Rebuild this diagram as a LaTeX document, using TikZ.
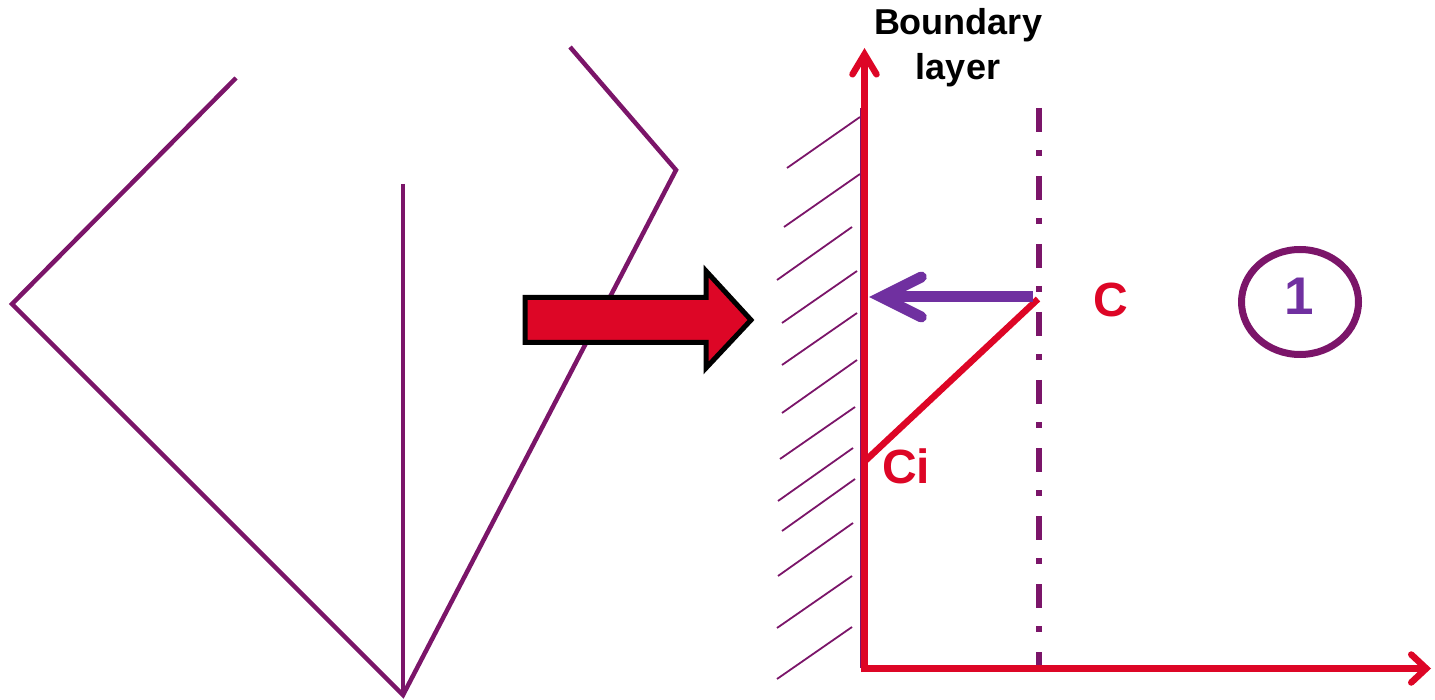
\documentclass[tikz,border=0pt]{standalone}
\usepackage{fontspec}
\setmainfont{Liberation Sans}
\usetikzlibrary{arrows.meta,shapes.geometric}
\definecolor{plum}{RGB}{123,21,105}
\definecolor{redc}{RGB}{221,6,38}
\definecolor{violetc}{RGB}{112,48,160}
\begin{document}
\begin{tikzpicture}[x=1pt,y=-1pt,
  sketch/.style={draw=plum,line width=4.5pt,line join=miter},
  hatch/.style={draw=plum,line width=1.8pt},
  wallline/.style={draw=plum,line width=2.5pt},
  redline/.style={draw=redc,line width=6.5pt},
  upaxis/.style={redline,-{Straight Barb[length=20pt,width=24pt,line cap=round]}},
  rightaxis/.style={redline,-{Straight Barb[length=15pt,width=28pt,line cap=round]}},
  fluxarrow/.style={draw=violetc,line width=11pt,-{Straight Barb[length=40pt,width=40pt,line cap=round]}},
  dashdot/.style={draw=plum,line width=6pt,dash pattern=on 24pt off 18pt on 6pt off 20pt},
  blockarrow/.style={draw=black,fill=redc,line width=5pt,line join=miter},
  bigred/.style={text=redc,font=\fontsize{48}{48}\selectfont\bfseries,inner sep=0pt,anchor=base},
  title/.style={text=black,font=\fontsize{36}{36}\selectfont\bfseries,inner sep=0pt,anchor=base},
  ring/.style={ellipse,draw=plum,line width=7pt,minimum width=117pt,minimum height=105pt,inner sep=0pt}
]
\useasboundingbox (0,0) rectangle (1435,700);

% left sketch
\coordinate (L1) at (236,78);
\coordinate (L2) at (12,304);
\coordinate (B) at (403,695);
\coordinate (V) at (403,184);
\coordinate (R1) at (570,47);
\coordinate (R2) at (676,170);
\draw[sketch] (L1) -- (L2) -- (B) -- (R2) -- (R1);
\draw[sketch] (V) -- (B);

% block arrow
\draw[blockarrow] (525,297.5) -- (706,297.5) -- (706,271) -- (751,320) -- (706,368) -- (706,342.5) -- (525,342.5) -- cycle;

% wall hatching
\draw[hatch] (787,168) -- (860,117);
\draw[hatch] (784,227) -- (860,174);
\draw[hatch] (777,280) -- (852,227);
\draw[hatch] (782,323) -- (857,271);
\draw[hatch] (782,365) -- (857,313);
\draw[hatch] (782,413) -- (857,360);
\draw[hatch] (780,459) -- (855,407);
\draw[hatch] (778,501) -- (853,448);
\draw[hatch] (782,531) -- (855,479);
\draw[hatch] (778,576) -- (853,523);
\draw[hatch] (777,628) -- (852,576);
\draw[hatch] (777,679) -- (852,627);
\draw[wallline] (861,108) -- (861,668);

% boundary layer edge
\coordinate (DT) at (1039,108);
\coordinate (DB) at (1039,665);
\draw[dashdot] (DT) -- (DB);

% axes
\coordinate (O) at (864.5,668.5);
\coordinate (Ytop) at (864.5,48);
\coordinate (Xend) at (1431,668.5);
\draw[upaxis] (864.5,672) -- (Ytop);
\draw[rightaxis] (860.5,668.5) -- (Xend);

% concentration profile
\coordinate (Cpt) at (1038,299);
\coordinate (Cipt) at (864,462);
\draw[redline] (Cpt) -- (Cipt);

% flux arrow
\coordinate (Fs) at (1033,297);
\coordinate (Fe) at (869,297);
\draw[fluxarrow] (Fs) -- (Fe);

% labels
\node[title] (bl1) at (958,35) {Boundary};
\node[title] (bl2) at (958,80) {layer};
\node[bigred] (C) at (1111,317) {C};
\node[bigred] (Ci) at (906,483) {Ci};

% region marker
\node[ring] (ring) at (1300,302) {};
\node[text=violetc,font=\fontsize{53}{53}\selectfont\bfseries,inner sep=0pt,anchor=base] (one) at (1299,315) {1};
\end{tikzpicture}
\end{document}
